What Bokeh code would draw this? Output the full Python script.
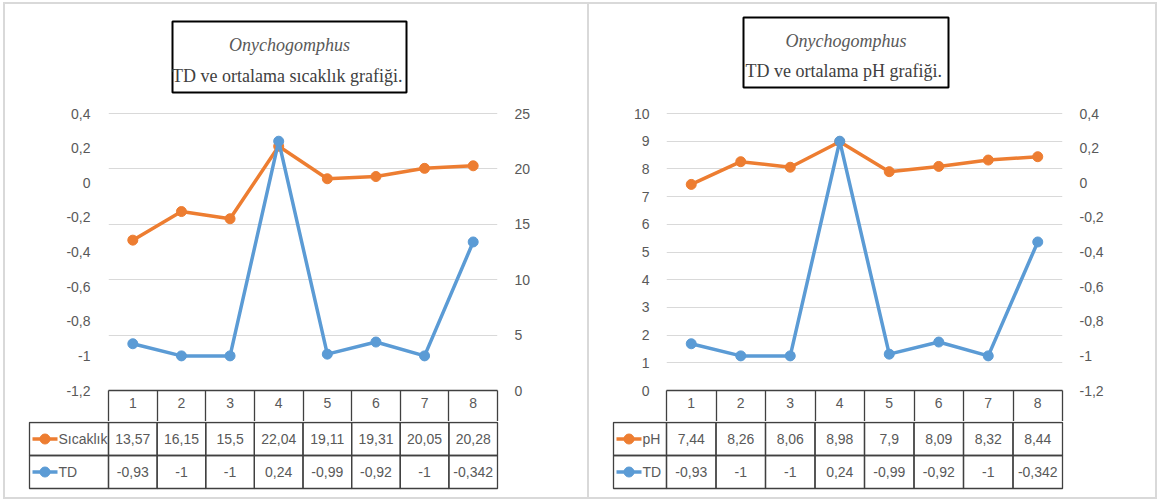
from bokeh.plotting import figure
from bokeh.models import Range1d, LinearAxis, FixedTicker, Label, BoxAnnotation
from bokeh.layouts import row, column
from bokeh.embed import file_html
from bokeh.resources import INLINE
from bokeh.core.properties import value

# ---------------- data ----------------
stations = [1, 2, 3, 4, 5, 6, 7, 8]
temperature = [13.57, 16.15, 15.5, 22.04, 19.11, 19.31, 20.05, 20.28]
td = [-0.93, -1, -1, 0.24, -0.99, -0.92, -1, -0.342]
ph = [7.44, 8.26, 8.06, 8.98, 7.9, 8.09, 8.32, 8.44]

temp_ticks = [0, 5, 10, 15, 20, 25]
temp_tick_labels = ["0", "5", "10", "15", "20", "25"]
td_ticks = [-1.2, -1.0, -0.8, -0.6, -0.4, -0.2, 0, 0.2, 0.4]
td_tick_labels = ["-1,2", "-1", "-0,8", "-0,6", "-0,4", "-0,2", "0", "0,2", "0,4"]
ph_ticks = [0, 1, 2, 3, 4, 5, 6, 7, 8, 9, 10]
ph_tick_labels = ["0", "1", "2", "3", "4", "5", "6", "7", "8", "9", "10"]

title_genus = "Onychogomphus"
title_left = "TD ve ortalama sıcaklık  grafiği."
title_right = "TD ve ortalama pH  grafiği."
name_temp = "Sıcaklık"
name_ph = "pH"
name_td = "TD"

# ---------------- style ----------------
ORANGE = "#ED7D31"
BLUE = "#5B9BD5"
GRID = "#d9d9d9"
TXT = "#595959"
TABLE_LINE = "#404040"
FONT = "Liberation Sans"
SERIF = "Liberation Serif"
FS = "14px"

PAGE_TOP = 4          # inner top of panels
FRAME_TOP = 10        # top of (extended) plot frame, page px
AXIS_TOP = 113        # page y of the top tick
AXIS_BOTTOM = 390     # page y of the bottom tick / table header top
HEADER_H = 31


def fmt(v):
    return format(v, "g").replace(".", ",")


def style_yaxis(ax, ticks, labels, standoff):
    ax.ticker = FixedTicker(ticks=ticks)
    ax.major_label_overrides = dict(zip(ticks, labels))
    ax.axis_line_color = None
    ax.major_tick_line_color = None
    ax.minor_tick_line_color = None
    ax.major_label_text_font = FONT
    ax.major_label_text_font_size = FS
    ax.major_label_text_color = TXT
    ax.major_label_standoff = standoff


def make_panel(page_left, width, lb, rb, label_w, primary_y, primary_ticks, primary_labels,
               primary_side, primary_vals, primary_name, title2, box, line1_py, line2_py,
               standoff_l, standoff_r):
    chart_px = AXIS_BOTTOM - AXIS_TOP
    frame_h = AXIS_BOTTOM - FRAME_TOP
    ext = frame_h - chart_px
    top = FRAME_TOP - PAGE_TOP
    frame_w = width - lb - rb
    cw = frame_w / 8.0
    frame_left = page_left + lb
    p0, p1 = primary_y
    upp = (p1 - p0) / chart_px
    c = figure(width=width, height=top + frame_h + HEADER_H,
               x_range=Range1d(0.5, 8.5), y_range=Range1d(p0, p1 + ext * upp),
               y_axis_location=primary_side,
               min_border_left=lb, min_border_right=rb,
               min_border_top=top, min_border_bottom=HEADER_H,
               output_backend="svg", toolbar_location=None,
               outline_line_color=None, background_fill_color="white",
               border_fill_color="white")
    c.frame_align = False
    main_ax = c.left[0] if primary_side == "left" else c.right[0]
    style_yaxis(main_ax, primary_ticks, primary_labels,
                standoff_l if primary_side == "left" else standoff_r)
    c.ygrid.ticker = FixedTicker(ticks=primary_ticks)
    c.ygrid.grid_line_color = GRID
    c.ygrid.grid_line_width = 1
    c.xgrid.visible = False

    td0, td1 = td_ticks[0], td_ticks[-1]
    c.extra_y_ranges = {"td": Range1d(td0, td1 + ext * (td1 - td0) / chart_px)}
    td_ax = LinearAxis(y_range_name="td")
    style_yaxis(td_ax, td_ticks, td_tick_labels,
                standoff_r if primary_side == "left" else standoff_l)
    c.add_layout(td_ax, "right" if primary_side == "left" else "left")

    # x axis acts as the header row of the data table
    xa = c.xaxis[0]
    xa.ticker = FixedTicker(ticks=stations,
                            minor_ticks=[s - 0.5 for s in stations] + [stations[-1] + 0.5])
    xa.axis_line_color = TABLE_LINE
    xa.axis_line_width = 1.3
    xa.major_tick_line_color = None
    xa.major_tick_out = 0
    xa.major_tick_in = 0
    xa.minor_tick_line_color = TABLE_LINE
    xa.minor_tick_line_width = 1.3
    xa.minor_tick_out = HEADER_H + 1
    xa.minor_tick_in = 0
    xa.major_label_standoff = -(HEADER_H - 6)
    xa.major_label_text_font = FONT
    xa.major_label_text_font_size = FS
    xa.major_label_text_color = TXT

    c.line(stations, primary_vals, color=ORANGE, line_width=3.5)
    c.scatter(stations, primary_vals, size=10, color=ORANGE)
    c.line(stations, td, y_range_name="td", color=BLUE, line_width=3.5)
    c.scatter(stations, td, y_range_name="td", size=10, color=BLUE)

    # title box (positions converted from page pixels)
    def dx(px):
        return 0.5 + (px - frame_left) / cw

    def dy(py):
        return p0 + (AXIS_BOTTOM - py) * upp

    bl, br, bt, bb = box
    c.add_layout(BoxAnnotation(left=dx(bl), right=dx(br), bottom=dy(bb), top=dy(bt),
                               fill_color=None, line_color="black", line_alpha=1.0,
                               line_width=2, level="underlay"))
    cx = dx((bl + br) / 2.0)
    c.add_layout(Label(x=cx, y=dy(line1_py), text=title_genus, text_font=SERIF,
                       text_font_style="italic", text_font_size="18px", text_color=TXT,
                       text_align="center", text_baseline="middle", level="overlay"))
    c.add_layout(Label(x=cx, y=dy(line2_py), text=title2, text_font=SERIF,
                       text_font_size="18px", text_color="#404040",
                       text_align="center", text_baseline="middle", level="overlay"))

    # ---------- data table ----------
    pad = 3
    rh = 33.0
    t_lb = lb - label_w - pad
    t_rb = rb - pad
    x0 = 0.5 - (label_w + pad) / cw
    x1 = 8.5 + pad / cw
    lab_l = 0.5 - label_w / cw
    tbl_h = 76
    t_frame_h = tbl_h - 6
    y_end = 2 + 1.0 / rh
    y_start = y_end - t_frame_h / rh
    t = figure(width=width, height=tbl_h, x_range=Range1d(x0, x1),
               y_range=Range1d(y_start, y_end),
               min_border_left=t_lb, min_border_right=t_rb,
               min_border_top=0, min_border_bottom=6,
               x_axis_location=None, y_axis_location=None,
               output_backend="svg", toolbar_location=None,
               outline_line_color=None)
    t.frame_align = False
    t.grid.visible = False
    for ry in [1, 0]:
        t.quad(left=[lab_l] + [s - 0.5 for s in stations],
               right=[0.5] + [s + 0.5 for s in stations],
               bottom=[ry] * 9, top=[ry + 1] * 9,
               fill_color=None, line_color=TABLE_LINE, line_width=1.3)
    t.text(x=stations, y=[1.5] * 8, text=[fmt(v) for v in primary_vals],
           text_align="center", text_baseline="middle", text_font=value(FONT),
           text_font_size=FS, text_color=TXT)
    t.text(x=stations, y=[0.5] * 8, text=[fmt(v) for v in td],
           text_align="center", text_baseline="middle", text_font=value(FONT),
           text_font_size=FS, text_color=TXT)
    for ry, col, name in [(1.5, ORANGE, primary_name), (0.5, BLUE, name_td)]:
        t.segment(x0=[lab_l + 3 / cw], y0=[ry], x1=[lab_l + 28 / cw], y1=[ry],
                  line_color=col, line_width=3.5)
        t.scatter(x=[lab_l + 15.5 / cw], y=[ry], size=10, color=col)
        t.text(x=[lab_l + 29 / cw], y=[ry], text=[name], text_align="left",
               text_baseline="middle", text_font=value(FONT),
               text_font_size=FS, text_color=TXT)
    return c, t


c1, t1 = make_panel(5, 582, 103, 90, 79, (0, 25), temp_ticks, temp_tick_labels, "right",
                    temperature, name_temp, title_left, (172, 406, 21, 92), 44, 75, 12, 11)
c2, t2 = make_panel(589, 566, 77, 93, 53, (0, 10), ph_ticks, ph_tick_labels, "left",
                    ph, name_ph, title_right, (743, 948, 17, 87), 40, 70, 11, 11)

p1 = column(c1, t1, spacing=0, styles={"border": "2px solid #d9d9d9", "margin-left": "3px",
                                        "margin-top": "2px"})
p2 = column(c2, t2, spacing=0, styles={"border-top": "2px solid #d9d9d9",
                                        "border-right": "2px solid #d9d9d9",
                                        "border-bottom": "2px solid #d9d9d9",
                                        "margin-top": "2px"})
root = row(p1, p2, spacing=0)

open("out.html", "w").write(file_html(root, INLINE))
